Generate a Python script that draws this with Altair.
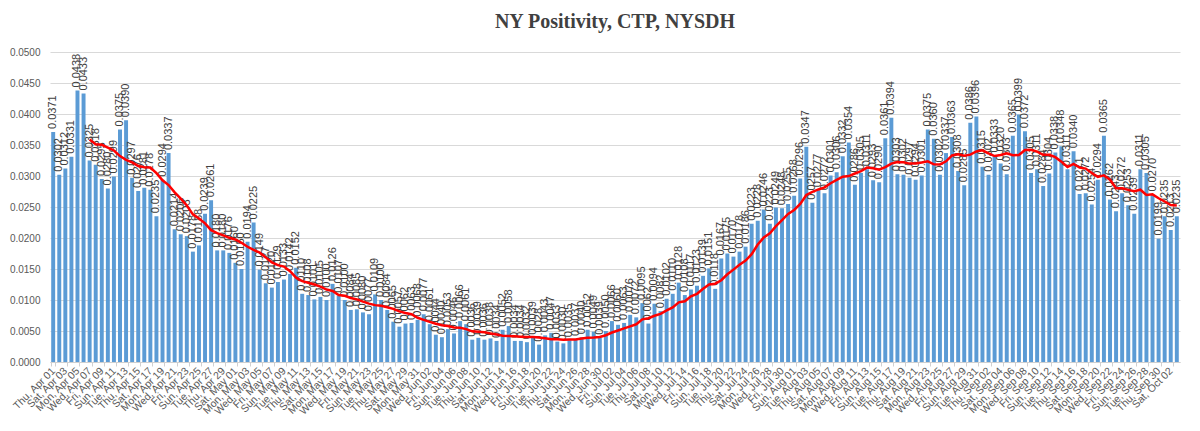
import altair as alt
import pandas as pd

# Daily test positivity, NY (Apr 1 - Oct 3, 2021)
apr = [0.0371, 0.0302, 0.0312, 0.0331, 0.0438, 0.0433, 0.0325, 0.0318, 0.0295, 0.0280,
       0.0299, 0.0375, 0.0390, 0.0297, 0.0276, 0.0281, 0.0278, 0.0235, 0.0294, 0.0337,
       0.0214, 0.0206, 0.0203, 0.0178, 0.0188, 0.0239, 0.0261, 0.0180, 0.0180, 0.0176]
may = [0.0160, 0.0150, 0.0194, 0.0225, 0.0149, 0.0127, 0.0120, 0.0129, 0.0133, 0.0142,
       0.0152, 0.0110, 0.0108, 0.0101, 0.0105, 0.0100, 0.0126, 0.0107, 0.0100, 0.0084,
       0.0085, 0.0080, 0.0077, 0.0109, 0.0100, 0.0084, 0.0065, 0.0057, 0.0062, 0.0063,
       0.0068]
jun = [0.0077, 0.0061, 0.0044, 0.0040, 0.0053, 0.0046, 0.0066, 0.0061, 0.0036, 0.0039,
       0.0036, 0.0038, 0.0034, 0.0052, 0.0058, 0.0034, 0.0034, 0.0032, 0.0039, 0.0028,
       0.0043, 0.0047, 0.0033, 0.0030, 0.0035, 0.0037, 0.0040, 0.0052, 0.0049, 0.0039]
jul = [0.0050, 0.0066, 0.0060, 0.0063, 0.0076, 0.0072, 0.0095, 0.0062, 0.0094, 0.0082,
       0.0102, 0.0110, 0.0128, 0.0108, 0.0117, 0.0123, 0.0139, 0.0151, 0.0118, 0.0167,
       0.0175, 0.0170, 0.0178, 0.0186, 0.0223, 0.0228, 0.0246, 0.0223, 0.0249, 0.0248,
       0.0255]
aug = [0.0268, 0.0296, 0.0347, 0.0257, 0.0277, 0.0272, 0.0301, 0.0306, 0.0332, 0.0354,
       0.0286, 0.0305, 0.0311, 0.0293, 0.0290, 0.0361, 0.0394, 0.0303, 0.0302, 0.0297,
       0.0294, 0.0301, 0.0375, 0.0360, 0.0302, 0.0337, 0.0363, 0.0308, 0.0285, 0.0386,
       0.0396]
sep = [0.0315, 0.0302, 0.0333, 0.0320, 0.0303, 0.0365, 0.0399, 0.0372, 0.0305, 0.0311,
       0.0284, 0.0304, 0.0338, 0.0348, 0.0311, 0.0340, 0.0271, 0.0272, 0.0254, 0.0294,
       0.0365, 0.0262, 0.0243, 0.0272, 0.0253, 0.0239, 0.0311, 0.0305, 0.0270, 0.0199]
octo = [0.0235, 0.0213, 0.0235]

values = apr + may + jun + jul + aug + sep + octo
dates = pd.date_range("2021-04-01", periods=len(values), freq="D")
day_labels = [d.strftime("%a, %b %d") for d in dates]
tick_labels = day_labels[::2]

df = pd.DataFrame({"idx": list(range(len(values))), "day": day_labels, "v": values})

FONT = "Liberation Sans"
GRAY = "#595959"

x_enc = alt.X(
    "day:N", sort=day_labels, title=None,
    scale=alt.Scale(paddingInner=0.35, paddingOuter=0.2),
    axis=alt.Axis(values=tick_labels, labelAngle=-45, labelAlign="right",
                  labelBaseline="middle", labelFontSize=10.5, labelColor=GRAY,
                  labelFont=FONT, labelPadding=3, labelOverlap=False,
                  tickBand="extent", tickSize=4, tickColor="#d0d0d0",
                  domainColor="#d0d0d0", grid=False),
)
y_enc = alt.Y(
    "v:Q", title=None,
    scale=alt.Scale(domain=[0, 0.05], nice=False),
    axis=alt.Axis(tickCount=10, format=".4f", labelFontSize=10, labelColor=GRAY,
                  labelFont=FONT, labelPadding=10, ticks=False, domain=False,
                  labelOverlap=False, gridColor="#d9d9d9",
                  minExtent=42, maxExtent=42),
)

base = alt.Chart(df)

bars = base.mark_bar(color="#5B9BD5").encode(x=x_enc, y=y_enc)

labels = base.mark_text(
    angle=270, align="left", baseline="middle", dx=3,
    fontSize=11, font=FONT, color="#404040",
).encode(
    x=alt.X("day:N", sort=day_labels),
    y=alt.Y("v:Q"),
    text=alt.Text("v:Q", format=".4f"),
)

trend = base.transform_window(
    ma="mean(v)", frame=[-6, 0], sort=[alt.SortField("idx")]
).transform_filter(
    "datum.idx >= 6"
).mark_line(color="#FF0000", strokeWidth=2.5).encode(
    x=alt.X("day:N", sort=day_labels),
    y=alt.Y("ma:Q"),
    order=alt.Order("idx:Q"),
)

chart = alt.layer(bars, labels, trend).properties(
    width=1130,
    height=310,
    padding={"left": 0, "top": 4, "right": 5, "bottom": 0},
    title=alt.TitleParams(
        "NY Positivity, CTP, NYSDH", font="Liberation Serif", fontSize=20,
        fontWeight="bold", color="#404040", offset=15, anchor="middle",
    ),
    background="white",
).configure_view(stroke=None)

chart.save("out.html", embed_options={"renderer": "svg", "actions": False})
